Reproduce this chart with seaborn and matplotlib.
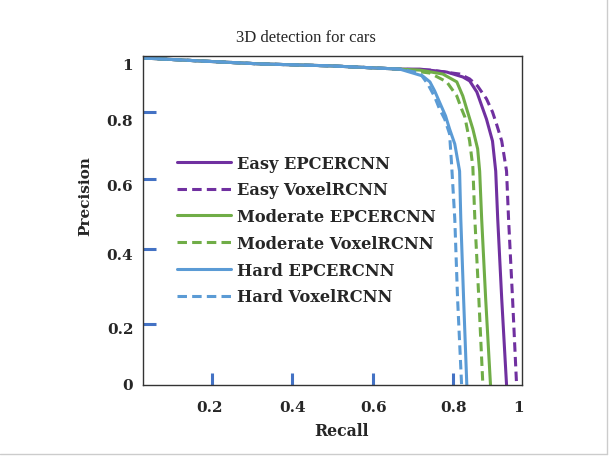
import numpy as np
import pandas as pd
import matplotlib
matplotlib.use("Agg")
import matplotlib.pyplot as plt
import seaborn as sns

# ---------------- data ----------------
top_recall = [0.028, 0.170, 0.319, 0.494, 0.668]
top_prec = [1.000, 0.991, 0.982, 0.976, 0.966]

hard_epc_recall = top_recall + [0.725, 0.743, 0.755, 0.767, 0.782, 0.792, 0.805, 0.817, 0.820, 0.827, 0.835]
hard_epc_prec = top_prec + [0.945, 0.927, 0.899, 0.865, 0.823, 0.783, 0.737, 0.654, 0.508, 0.263, 0.0]

hard_vox_recall = top_recall + [0.718, 0.738, 0.755, 0.767, 0.780, 0.792, 0.797, 0.805, 0.812, 0.822]
hard_vox_prec = top_prec + [0.954, 0.920, 0.881, 0.844, 0.813, 0.768, 0.676, 0.508, 0.263, 0.0]

mod_epc_recall = top_recall + [0.718, 0.775, 0.810, 0.825, 0.837, 0.850, 0.862, 0.867, 0.872, 0.882, 0.894]
mod_epc_prec = top_prec + [0.963, 0.951, 0.927, 0.884, 0.835, 0.783, 0.722, 0.654, 0.508, 0.263, 0.0]

mod_vox_recall = top_recall + [0.743, 0.785, 0.810, 0.822, 0.830, 0.842, 0.850, 0.855, 0.865, 0.875]
mod_vox_prec = top_prec + [0.954, 0.927, 0.884, 0.844, 0.820, 0.746, 0.667, 0.508, 0.263, 0.0]

easy_epc_recall = top_recall + [0.718, 0.785, 0.825, 0.842, 0.860, 0.875, 0.884, 0.899, 0.907, 0.912, 0.922, 0.934]
easy_epc_prec = top_prec + [0.966, 0.957, 0.942, 0.930, 0.896, 0.844, 0.813, 0.746, 0.654, 0.508, 0.263, 0.0]

easy_vox_recall = top_recall + [0.743, 0.817, 0.842, 0.862, 0.884, 0.899, 0.909, 0.922, 0.934, 0.939, 0.949, 0.959]
easy_vox_prec = top_prec + [0.963, 0.951, 0.936, 0.914, 0.875, 0.835, 0.798, 0.746, 0.654, 0.508, 0.263, 0.0]

series_names = ["Easy EPCERCNN", "Easy VoxelRCNN",
                "Moderate EPCERCNN", "Moderate VoxelRCNN",
                "Hard EPCERCNN", "Hard VoxelRCNN"]
series_recall = [easy_epc_recall, easy_vox_recall, mod_epc_recall,
                 mod_vox_recall, hard_epc_recall, hard_vox_recall]
series_prec = [easy_epc_prec, easy_vox_prec, mod_epc_prec,
               mod_vox_prec, hard_epc_prec, hard_vox_prec]

xtick_marks = [0.2, 0.4, 0.6, 0.8]
xtick_label_pos = [0.193, 0.401, 0.602, 0.801, 0.964]
xtick_labels = ["0.2", "0.4", "0.6", "0.8", "1"]
ytick_marks = [0.187, 0.416, 0.630, 0.835]
ytick_label_pos = [0.003, 0.177, 0.401, 0.612, 0.813, 0.982]
ytick_labels = ["0", "0.2", "0.4", "0.6", "0.8", "1"]

title = "3D detection for cars"
xlabel = "Recall"
ylabel = "Precision"

# ---------------- styles ----------------
colors = ["#7030A0", "#7030A0", "#70AD47", "#70AD47", "#5B9BD5", "#5B9BD5"]
dashed = [False, True, False, True, False, True]
dash_pat = [3.1, 1.7]

sns.set_theme(style="white")
plt.rcParams["font.family"] = ["DejaVu Serif"]

fig = plt.figure(figsize=(6.11, 4.60), dpi=100)
ax = fig.add_axes([0.234, 0.161, 0.620, 0.715])

rows = []
for name, rx, py in zip(series_names, series_recall, series_prec):
    for a, b in zip(rx, py):
        rows.append({"series": name, "Recall": a, "Precision": b})
df = pd.DataFrame(rows)

handles = []
for name, c, d in zip(series_names, colors, dashed):
    sub = df[df["series"] == name]
    sns.lineplot(data=sub, x="Recall", y="Precision", ax=ax, sort=False,
                 estimator=None, color=c, lw=2.2, legend=False)
    line = ax.lines[-1]
    if d:
        line.set_dashes(dash_pat)
    line.set_dash_capstyle("butt")
    h, = ax.plot([], [], color=c, lw=2.2)
    if d:
        h.set_dashes(dash_pat)
    handles.append(h)

ax.set_xlim(0.028, 0.972)
ax.set_ylim(0.0, 1.006)

# tick labels (no marks) as major ticks, blue marks as minor ticks
ax.set_xticks(xtick_label_pos)
ax.set_xticklabels(xtick_labels, fontsize=11, fontweight="bold")
ax.set_yticks(ytick_label_pos)
ax.set_yticklabels(ytick_labels, fontsize=11, fontweight="bold")
ax.set_xticks(xtick_marks, minor=True)
ax.set_yticks(ytick_marks, minor=True)
ax.tick_params(axis="both", which="major", length=0)
ax.tick_params(axis="x", which="major", pad=11)
ax.tick_params(axis="y", which="major", pad=7)
ax.tick_params(axis="both", which="minor", direction="in", length=9,
               width=2.2, color="#4472C4")
ax.tick_params(axis="x", which="minor", bottom=True)
ax.tick_params(axis="y", which="minor", left=True)

for s in ax.spines.values():
    s.set_color("#333333")
    s.set_linewidth(1.0)

ax.set_xlabel(xlabel, fontsize=11.3, fontweight="bold")
ax.set_ylabel(ylabel, fontsize=11, fontweight="bold")
ax.xaxis.label.set_va("center")
ax.yaxis.label.set_va("center")
ax.xaxis.set_label_coords(0.525, -0.14)
ax.yaxis.set_label_coords(-0.153, 0.578)

fig.text(0.501, 0.918, title, ha="center", va="center",
         fontsize=12, family=["Liberation Serif"])

leg = ax.legend(handles, series_names, loc="upper left",
                bbox_to_anchor=(0.052, 0.745), frameon=False,
                handlelength=3.3, handletextpad=0.4, labelspacing=0.6,
                borderpad=0.4,
                prop={"size": 11.7, "weight": "bold", "family": "DejaVu Serif"})

# light figure border on right and bottom
fig.add_artist(plt.Line2D([0.994, 0.994], [0.01, 1.0], color="#cccccc", lw=1,
                          transform=fig.transFigure))
fig.add_artist(plt.Line2D([0.0, 0.994], [0.01, 0.01], color="#cccccc", lw=1,
                          transform=fig.transFigure))

fig.savefig("out.png", dpi=100)
